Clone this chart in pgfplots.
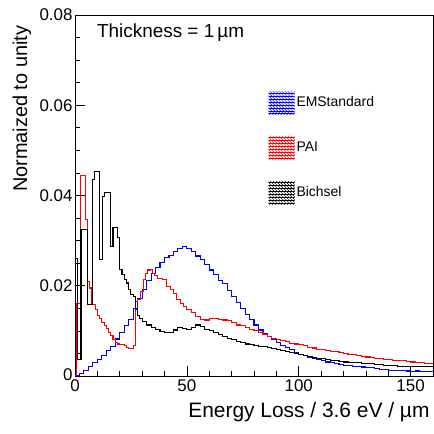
\documentclass[border=0pt]{standalone}
\usepackage{fontspec}
\setmainfont{Liberation Sans}
\usepackage{pgfplots}
\pgfplotsset{compat=1.18}
\usetikzlibrary{patterns}
\begin{document}
\begin{tikzpicture}
\begin{axis}[
  scale only axis, width=358bp, height=361bp,
  xmin=0, xmax=160, ymin=0, ymax=0.08,
  axis line style={line width=0.8bp},
  xtick={0,50,100,150}, xticklabels={0,50,100,150}, minor x tick num=4,
  ytick={0,0.02,0.04,0.06,0.08}, yticklabels={\raisebox{2bp}{0}\hspace{7bp},0.02,0.04,0.06,0.08}, minor y tick num=3,
  tick align=inside, xtick pos=left, ytick pos=left,
  major tick length=10bp, minor tick length=5bp,
  tick style={line width=0.7bp, black},
  scaled y ticks=false,
  tick label style={font=\fontsize{17}{20}\selectfont},
  yticklabel style={xshift=1bp},
  label style={font=\fontsize{20}{24}\selectfont},
  xlabel={Energy Loss / 3.6 eV / µm},
  ylabel={Normaized to unity},
  xlabel style={at={(rel axis cs:1,-0.1)}, anchor=east, font=\fontsize{21}{24}\selectfont},
  ylabel style={at={(rel axis cs:-0.148,0.98)}, anchor=east},
  legend style={at={(rel axis cs:0.54,0.79)}, anchor=north west, draw=none, fill=none,
    font=\fontsize{14}{16}\selectfont, row sep=22bp, inner sep=0pt},
  legend cell align=left,
  clip=true,
]
\addplot[const plot mark left, blue, line width=1.1bp, mark=none,
  legend image code/.code={\path[draw=none, pattern=north west lines, pattern color=blue] (0bp,-11.5bp) rectangle (26bp,11.5bp);
    \path[draw=none, pattern=horizontal lines, pattern color=blue] (0bp,-11.5bp) rectangle (26bp,11.5bp);}]
coordinates {
(0,0.0002)(2,0.0006)(4,0.0013)(6,0.0021)(8,0.0029)(10,0.0036)(12,0.0046)(14,0.0056)(16,0.0066)(18,0.0082)
(20,0.0097)(22,0.0112)(24,0.0126)(26,0.0150)(28,0.0172)(30,0.0192)(32,0.0212)(34,0.0228)(36,0.0240)(38,0.0252)
(40,0.0263)(42,0.0268)(44,0.0276)(46,0.0283)(48,0.0286)(50,0.0282)(52,0.0275)(54,0.0266)(56,0.0259)(58,0.0248)
(60,0.0235)(62,0.0224)(64,0.0212)(66,0.0204)(68,0.0190)(70,0.0176)(72,0.0163)(74,0.0150)(76,0.0137)(78,0.0125)
(80,0.0113)(82,0.0102)(84,0.0095)(86,0.0088)(88,0.0080)(90,0.0074)(92,0.0068)(94,0.0063)(96,0.0058)(98,0.0052)
(100,0.0048)(102,0.0046)(104,0.0041)(106,0.0039)(108,0.0036)(110,0.0034)(112,0.0031)(114,0.0029)(116,0.0028)(118,0.0026)
(120,0.0024)(122,0.0023)(124,0.0022)(126,0.0021)(128,0.0020)(130,0.0019)(132,0.0018)(134,0.0016)(136,0.0015)(138,0.0015)
(140,0.0013)(142,0.0013)(144,0.0012)(146,0.0012)(148,0.0011)(150,0.0010)(152,0.0011)(154,0.0010)(156,0.0010)(158,0.0009)(160,0.0009)
};
\addlegendentry{EMStandard}
\addplot[const plot mark left, red, line width=1.1bp, mark=none,
  legend image code/.code={\path[draw=none, pattern=north west lines, pattern color=red] (0bp,-11.5bp) rectangle (26bp,11.5bp);
    \path[draw=none, pattern=horizontal lines, pattern color=red] (0bp,-11.5bp) rectangle (26bp,11.5bp);}]
coordinates {
(0,0)(0.8,0.0161)(2.5,0.0445)(4.5,0.0347)(5.5,0.0210)(6.5,0.0195)(7.5,0.0158)(9,0.0147)(10,0.0135)(11,0.0127)
(12,0.0119)(13,0.0112)(14,0.0105)(15,0.0097)(16,0.0089)(17,0.0081)(18,0.0074)(19,0.0071)(20,0.0069)(21,0.0070)
(22,0.0067)(23,0.0063)(24,0.0060)(25,0.0061)(26,0.0067)(27,0.0165)(28,0.0170)(29.3,0.0187)(30.5,0.0213)(31.5,0.0228)
(32.5,0.0235)(33.5,0.0237)(34.5,0.0228)(35.5,0.0222)(37,0.0217)(39,0.0214)(41,0.0199)(42.5,0.0192)(44,0.0183)(45.5,0.0169)
(47,0.0160)(48.5,0.0155)(50,0.0147)(52,0.0140)(54,0.0132)(56,0.0125)(58,0.0124)(60,0.0128)(62,0.0127)(64,0.0126)
(66,0.0124)(68,0.0122)(70,0.0118)(72,0.0113)(74,0.0111)(76,0.0108)(78,0.0104)(80,0.0100)(82,0.0096)(84,0.0091)
(86,0.0088)(88,0.0084)(90,0.0081)(92,0.0078)(94,0.0076)(96,0.0073)(98,0.0071)(100,0.0069)(102,0.0067)(104,0.0064)
(106,0.0062)(108,0.0059)(110,0.0058)(112,0.0056)(114,0.0055)(116,0.0054)(118,0.0052)(120,0.0050)(122,0.0048)(124,0.0047)
(126,0.0045)(128,0.0043)(130,0.0042)(132,0.0041)(134,0.0039)(136,0.0038)(138,0.0037)(140,0.0036)(142,0.0035)(144,0.0035)
(146,0.0034)(148,0.0032)(150,0.0031)(152,0.0030)(154,0.0029)(156,0.0028)(158,0.0027)(160,0.0027)
};
\addlegendentry{PAI}
\addplot[const plot mark left, black, line width=1.1bp, mark=none,
  legend image code/.code={\path[draw=none, pattern=north west lines, pattern color=black] (0bp,-11.5bp) rectangle (26bp,11.5bp);
    \path[draw=none, pattern=horizontal lines, pattern color=black] (0bp,-11.5bp) rectangle (26bp,11.5bp);}]
coordinates {
(0,0.0261)(1.2,0.0036)(2.7,0.0324)(5.7,0.0158)(7.7,0.0436)(8.9,0.0454)(10.8,0.0259)(12.3,0.0398)(13.3,0.0407)(15.8,0.0287)
(17,0.0330)(18.8,0.0306)(20,0.0236)(21,0.0225)(22,0.0213)(23,0.0206)(24,0.0192)(25,0.0181)(26,0.0176)(27,0.0147)
(28,0.0135)(29,0.0127)(30,0.0121)(32,0.0113)(34,0.0108)(36,0.0104)(38,0.0099)(40,0.0096)(42,0.0097)(44,0.0102)
(46,0.0108)(48,0.0106)(50,0.0104)(52,0.0108)(54,0.0113)(56,0.0110)(58,0.0104)(60,0.0100)(62,0.0096)(64,0.0092)
(66,0.0087)(68,0.0084)(70,0.0080)(72,0.0077)(74,0.0074)(76,0.0071)(78,0.0069)(80,0.0068)(82,0.0066)(84,0.0065)
(86,0.0063)(88,0.0061)(90,0.0058)(92,0.0056)(94,0.0055)(96,0.0052)(98,0.0049)(100,0.0047)(102,0.0045)(104,0.0043)
(106,0.0041)(108,0.0039)(110,0.0038)(112,0.0036)(114,0.0035)(116,0.0034)(118,0.0033)(120,0.0031)(122,0.0030)(124,0.0030)
(126,0.0029)(128,0.0028)(130,0.0028)(132,0.0027)(134,0.0026)(136,0.0025)(138,0.0024)(140,0.0024)(142,0.0023)(144,0.0022)
(146,0.0022)(148,0.0022)(150,0.0021)(152,0.0022)(154,0.0021)(156,0.0022)(158,0.0022)(160,0.0022)
};
\addlegendentry{Bichsel}
\node[anchor=west, font=\fontsize{19}{22}\selectfont, inner sep=0pt] at (rel axis cs:0.061,0.95) {Thickness = 1\,µm};
\end{axis}
\pgfresetboundingbox
\path[use as bounding box] ([xshift=-75bp,yshift=-58bp]current axis.south west) rectangle ([xshift=1bp,yshift=15bp]current axis.north east);
\end{tikzpicture}
\end{document}
